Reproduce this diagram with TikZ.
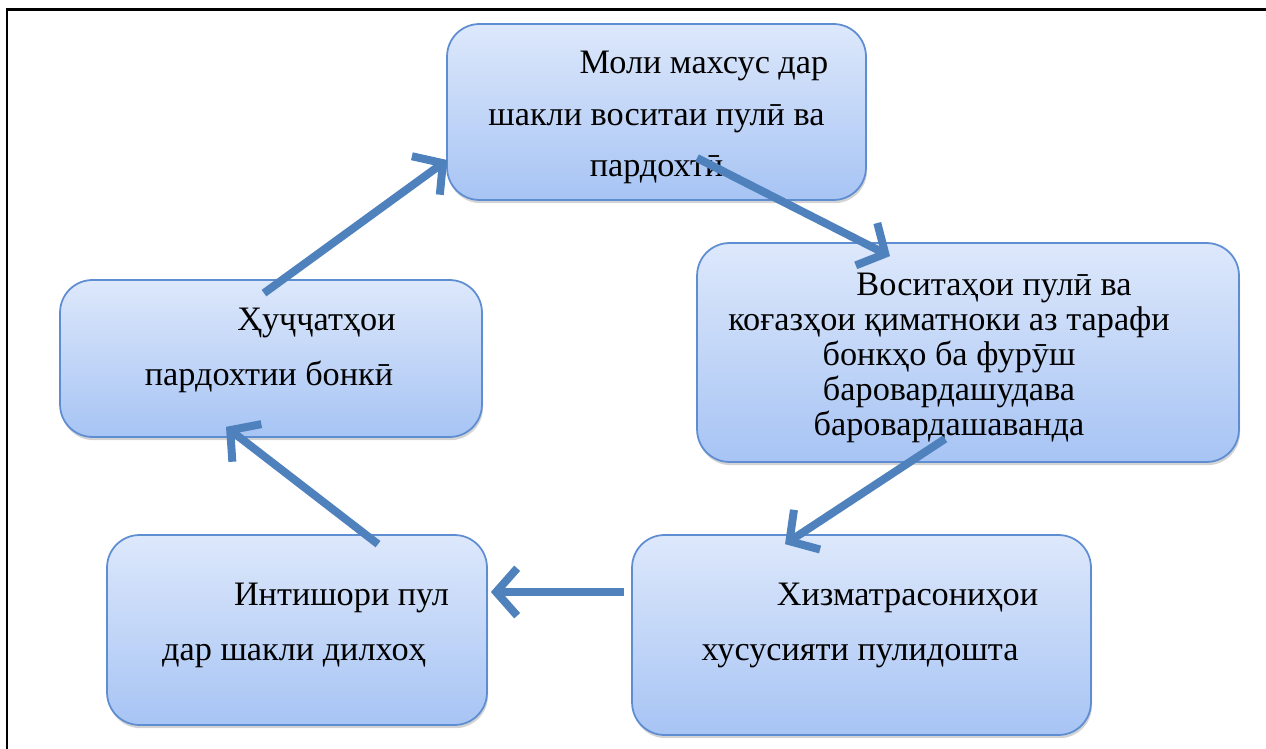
\documentclass[tikz,border=0pt]{standalone}
\usepackage{fontspec}
\setmainfont{Liberation Serif}
\usetikzlibrary{arrows.meta, positioning, calc, shadows}

\definecolor{boxtop}{HTML}{DDE8FB}
\definecolor{boxbot}{HTML}{A7C4F4}
\definecolor{boxline}{HTML}{5E8DD2}
\definecolor{flowblue}{HTML}{4F81BD}

\newcommand{\firstind}{\hspace*{1.9cm}}

\begin{document}
\begin{tikzpicture}[
        x=0.02cm, y=-0.02cm,
        box/.style={rectangle, draw=boxline, line width=1pt, rounded corners=0.65cm, top color=boxtop, bottom color=boxbot, drop shadow={shadow xshift=0.6pt, shadow yshift=-1.8pt, opacity=0.35}},
        txt/.style={align=center, anchor=base, font=\fontsize{19.5}{31}\selectfont},
        arrow/.style={-{Straight Barb[length=0.42cm, width=0.95cm]}, line width=0.16cm, draw=flowblue}
    ]
    \useasboundingbox (0,0) rectangle (1266,749);

    % Frame
    \draw[line width=1.7pt] (7,749) -- (7,10) -- (1266,10);

    % Boxes
    \node[box, minimum width=8.38cm, minimum height=3.52cm] (moli) at (656.5,112) {};
    \node[box, minimum width=10.84cm, minimum height=4.38cm] (vosita) at (968,352.5) {};
    \node[box, minimum width=8.44cm, minimum height=3.14cm] (hujjat) at (271,358.5) {};
    \node[box, minimum width=7.6cm, minimum height=3.8cm] (intishor) at (297,630) {};
    \node[box, minimum width=9.18cm, minimum height=4cm] (xizmat) at (861.5,635) {};

    % Texts (anchored at the last line)
    \node[txt, font=\fontsize{19.5}{29.5}\selectfont] (moli-t) at ($(moli.center)+(0,65)$) {\firstind Моли махсус дар\\шакли воситаи пулӣ ва\\пардохтӣ};
    \node[txt, font=\fontsize{19.5}{19.8}\selectfont] (vosita-t) at ($(vosita.center)+(-19,82.5)$) {\hspace*{1.8cm}Воситаҳои пулӣ ва\\коғазҳои қиматноки аз тарафи\\бонкҳо ба фурӯш\\баровардашудава\\баровардашаванда};
    \node[txt] (hujjat-t) at ($(hujjat.center)+(-2,26.5)$) {\firstind Ҳуҷҷатҳои\\пардохтии бонкӣ};
    \node[txt] (intishor-t) at ($(intishor.center)+(-3,30)$) {\firstind Интишори пул\\дар шакли дилхоҳ};
    \node[txt] (xizmat-t) at ($(xizmat.center)+(-1.5,25)$) {\firstind Хизматрасониҳои\\хусусияти пулидошта};

    % Connections
    \draw[arrow] ($(hujjat.north)+(-7,14)$) -- ($(moli.west)+(1,48)$);
    \draw[arrow] ($(moli.center)+(40.5,46)$) -- ($(vosita.north)+(-78,14)$);
    \draw[arrow] ($(vosita.south)+(-23,-24)$) -- ($(xizmat.north)+(-76.5,10)$);
    \draw[arrow] ($(xizmat.west)+(-7,-43)$) -- ($(intishor.east)+(3,-38)$);
    \draw[arrow] ($(intishor.north)+(81,10)$) -- ($(hujjat.south)+(-45,-11)$);

\end{tikzpicture}
\end{document}
